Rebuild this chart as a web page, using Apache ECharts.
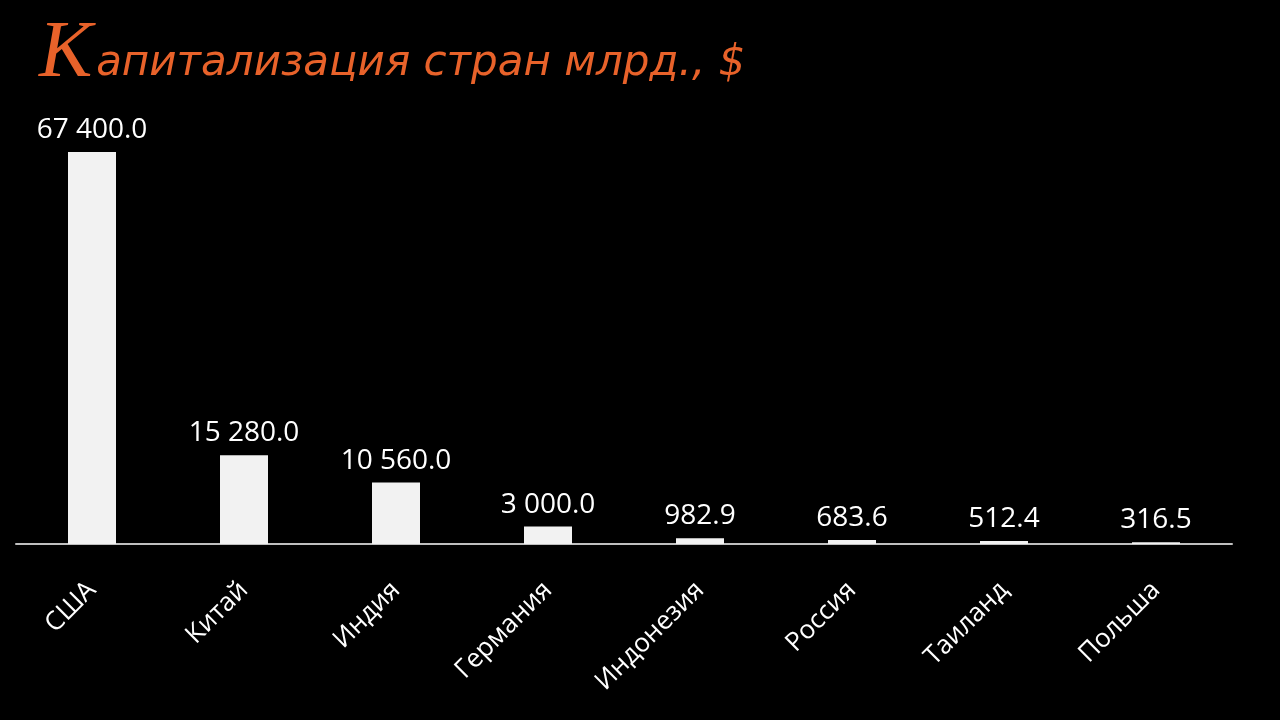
<!DOCTYPE html>
<html>
<head>
<meta charset="utf-8">
<script src="https://cdn.jsdelivr.net/npm/echarts@6/dist/echarts.min.js"></script>
<style>
  html, body { margin: 0; padding: 0; background: #000; }
  #main { width: 1280px; height: 720px; }
</style>
</head>
<body>
<div id="main"></div>
<script>
// данные
const countries = ["США", "Китай", "Индия", "Германия", "Индонезия", "Россия", "Таиланд", "Польша"];
const capitalization = [67400, 15280, 10560, 3000, 982.9, 683.6, 512.4, 316.5];

// 67 400.0 — пробел как разделитель тысяч
function fmt(v) {
  let parts = v.toFixed(1).split(".");
  parts[0] = parts[0].replace(/\B(?=(\d{3})+(?!\d))/g, " ");
  return parts.join(".");
}

const chart = echarts.init(document.getElementById("main"));

const option = {
  backgroundColor: "#000",
  animation: false,
  title: {
    left: 34,
    top: 10,
    text: "{k|К}{t|апитализация стран млрд., $}",
    textStyle: {
      fontWeight: "normal",
      rich: {
        k: {
          fontFamily: "Liberation Serif",
          fontStyle: "italic",
          fontWeight: "normal",
          fontSize: 80,
          lineHeight: 80,
          verticalAlign: "bottom",
          color: "#e8622a",
        },
        t: {
          fontFamily: "DejaVu Sans",
          fontStyle: "italic",
          fontWeight: "normal",
          fontSize: 42,
          lineHeight: 42,
          verticalAlign: "bottom",
          color: "#e8622a",
          padding: [0, 0, 10, 4],
        },
      },
    },
  },
  grid: {
    left: 16,
    right: 48,
    top: 100,
    bottom: 176,
    containLabel: false,
  },
  xAxis: {
    type: "category",
    data: countries,
    axisLine: { lineStyle: { color: "#bfbfbf", width: 2 } },
    axisTick: { show: false },
    axisLabel: {
      rotate: 45,
      color: "#fff",
      fontFamily: "Open Sans",
      fontSize: 26,
      margin: 42,
      interval: 0,
    },
  },
  yAxis: {
    type: "value",
    min: 0,
    max: 76340,
    show: false,
    splitLine: { show: false },
  },
  series: [
    {
      type: "bar",
      data: capitalization,
      barWidth: 48,
      itemStyle: { color: "#f2f2f2" },
      label: {
        show: true,
        position: "top",
        distance: 8,
        color: "#fff",
        fontFamily: "Open Sans",
        fontSize: 28,
        formatter: (p) => fmt(p.value),
      },
    },
  ],
};

chart.setOption(option);
</script>
</body>
</html>
